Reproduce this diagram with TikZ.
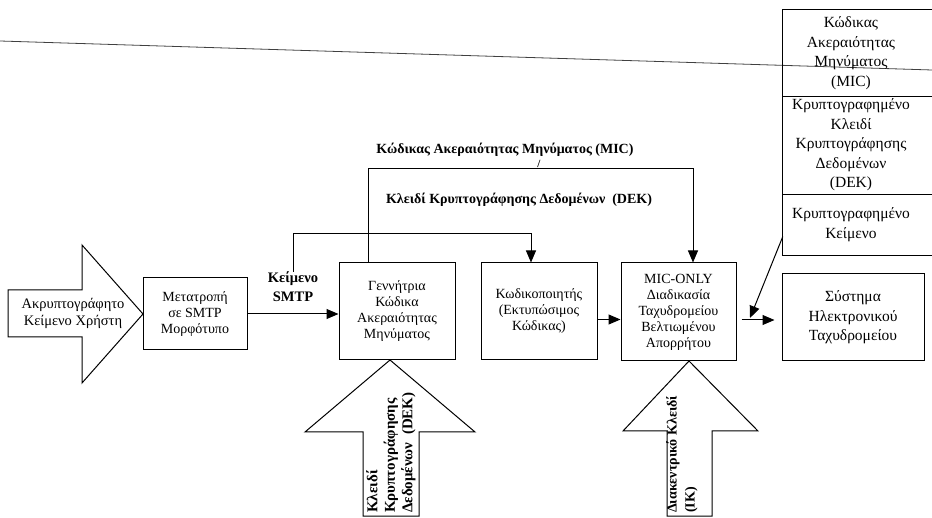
\documentclass[tikz,border=0pt]{standalone}
\usepackage{fontspec}
\setmainfont{Liberation Serif}
\usetikzlibrary{arrows.meta,calc}

\begin{document}
\begin{tikzpicture}[x=1pt,y=-1pt,
  box/.style={draw, line width=1pt, inner sep=0pt, align=center,
    font=\fontsize{14}{16}\selectfont},
  txt/.style={align=center, inner sep=0pt, font=\fontsize{14.5}{17}\selectfont},
  lbl/.style={align=center, inner sep=0pt, font=\bfseries\fontsize{14}{16}\selectfont},
  stackt/.style={align=center, inner sep=0pt, text width=136pt,
    font=\fontsize{15.5}{19.5}\selectfont},
  conn/.style={line width=1pt},
  flow/.style={conn, -{Triangle[length=12pt,width=10pt]}},
  bigarrow/.style={draw, line width=1pt, line join=miter, fill=white},
]
\useasboundingbox (0,0) rectangle (932,518);

% rule crossing the top of the page
\draw[line width=0.8pt, black!75] (0,41) -- (932,70);

% main chain of processing boxes
\node[box, minimum width=104pt, minimum height=72pt] (conv) at (195,314)
  {Μετατροπή\\σε SMTP\\Μορφότυπο};
\node[box, minimum width=116pt, minimum height=97pt] (gen) at (397,311.5)
  {Γεννήτρια\\Κώδικα\\Ακεραιότητας\\Μηνύματος};
\node[box, minimum width=116pt, minimum height=97pt] (enc) at (539,311.5)
  {Κωδικοποιητής\\(Εκτυπώσιμος\\Κώδικας)};
\node[box, minimum width=115pt, minimum height=98pt] (mic) at (678.5,312)
  {MIC-ONLY\\Διαδικασία\\Ταχυδρομείου\\Βελτιωμένου\\Απορρήτου};
\node[box, minimum width=142pt, minimum height=87pt,
  font=\fontsize{15.5}{19.5}\selectfont] (sys) at (853,317.5)
  {Σύστημα\\Ηλεκτρονικού\\Ταχυδρομείου};

% input arrow on the left
\coordinate (lt) at (143,314);
\draw[bigarrow] (8,290) -- (82,290) -- (82,245) -- (lt) -- (82,383)
  -- (82,337) -- (8,337) -- cycle;
\node[txt] (plain) at (73,313.5) {Ακρυπτογράφητο\\Κείμενο Χρήστη};

% key arrows from below
\coordinate (k1) at (390,360);
\draw[bigarrow] (k1) -- (475,432) -- (419,432) -- (419,516) -- (363,516)
  -- (363,432) -- (305,432) -- cycle;
\node[rotate=90, anchor=west, align=left, inner sep=0pt,
  font=\bfseries\fontsize{15}{17.5}\selectfont] (deklbl) at (391,513)
  {Κλειδί\\Κρυπτογράφησης\\Δεδομένων~~(DEK)};

\coordinate (k2) at (689,361);
\draw[bigarrow] (k2) -- (758,431) -- (712,431) -- (712,516) -- (667,516)
  -- (667,431) -- (623,431) -- cycle;
\node[rotate=90, anchor=west, align=left, inner sep=0pt,
  font=\bfseries\fontsize{14}{18}\selectfont] (iklbl) at (682,513)
  {Διακεντρικό Κλειδί\\(IK)};

% output message parts
\node[stackt, minimum height=86pt] (micbox) at (851,53)
  {Κώδικας\\Ακεραιότητας\\Μηνύματος\\(MIC)};
\node[stackt, minimum height=98pt] (dekbox) at (851,145)
  {Κρυπτογραφημένο\\Κλειδί\\Κρυπτογράφησης\\Δεδομένων\\(DEK)};
\node[stackt, minimum height=61pt] (ctbox) at (851,224.5)
  {Κρυπτογραφημένο\\Κείμενο};
\draw[conn] ([xshift=20pt]micbox.north east) -- (micbox.north west)
  -- (ctbox.south west) -- ([xshift=20pt]ctbox.south east);
\draw[conn] (micbox.south west) -- ([xshift=20pt]micbox.south east);
\draw[conn] (dekbox.south west) -- ([xshift=20pt]dekbox.south east);

% labels
\node[lbl, font=\bfseries\fontsize{14.5}{19}\selectfont] (smtp) at (293,287)
  {Κείμενο\\SMTP};
\node[lbl] (mictitle) at (505,150) {Κώδικας Ακεραιότητας Μηνύματος (MIC)};
\node[lbl, font=\bfseries\fontsize{11}{12}\selectfont] (slash) at (539,164) {/};
\node[lbl] (dektitle) at (519,200) {Κλειδί Κρυπτογράφησης Δεδομένων~~(DEK)};

% connectors
\coordinate (j1) at (293,234);
\coordinate (j2) at (368,169);
\draw[flow] (conv.east) -- (conv.east -| gen.west);
\draw[flow] (smtp.north) -- (j1) -| ([xshift=-8pt]enc.north);
\draw[flow] ([xshift=-29pt]gen.north) -- (j2) -| ([xshift=14.5pt]mic.north);
\draw[flow] ([yshift=-8pt]enc.east) -- ([yshift=-8pt]enc.east -| mic.west);
\draw[flow, shorten <=5pt, shorten >=7pt] ([yshift=-8pt]mic.east)
  -- ([yshift=-8pt]mic.east -| sys.west);
\coordinate (ctend) at (750,318);
\draw[flow] ([yshift=-12pt]ctbox.west) -- (ctend);
\end{tikzpicture}
\end{document}
